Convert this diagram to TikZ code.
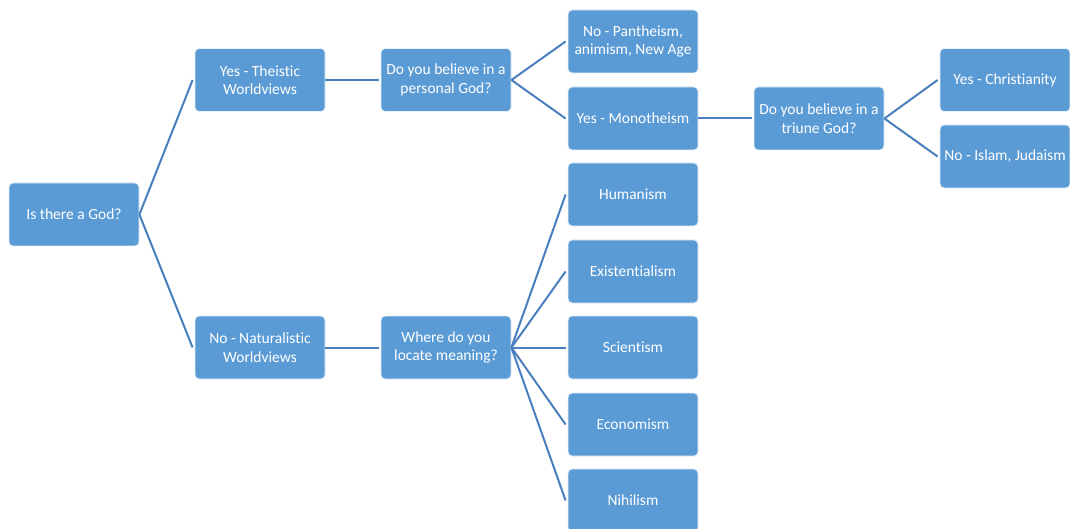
\documentclass[tikz,border=0pt]{standalone}
\usepackage{fontspec}
\setmainfont[Ligatures=NoCommon]{Carlito}
\definecolor{boxblue}{HTML}{5B9BD5}
\definecolor{lineblue}{HTML}{4A7FBF}
\begin{document}
\begin{tikzpicture}[x=1pt,y=-1pt,
  box/.style={rectangle, rounded corners=4pt, fill=boxblue, draw=white!85!boxblue, line width=0.8pt,
    minimum width=130pt, minimum height=63pt, inner sep=0pt, text=white, align=center,
    font=\fontsize{15.5}{18.5}\selectfont},
  conn/.style={draw=lineblue, line width=2pt}]
\clip (0,0) rectangle (1070,529);
\fill[white] (0,0) rectangle (1070,529);
\node[box] (root) at (74,214.5) {Is there a God?};
\node[box] (yes) at (260,80) {Yes - Theistic\\Worldviews};
\node[box] (no) at (260,347.5) {No - Naturalistic\\Worldviews};
\node[box] (personal) at (446,80) {Do you believe in a\\personal God?};
\node[box] (meaning) at (446,347.5) {Where do you\\locate meaning?};
\node[box] (panth) at (633,41.5) {No - Pantheism,\\animism, New Age};
\node[box] (mono) at (633,118.5) {Yes - Monotheism};
\node[box] (hum) at (633,194.5) {Humanism};
\node[box] (exi) at (633,271.5) {Existentialism};
\node[box] (sci) at (633,347.5) {Scientism};
\node[box] (eco) at (633,424.5) {Economism};
\node[box] (nih) at (633,500.5) {Nihilism};
\node[box] (triune) at (819,118.5) {Do you believe in a\\triune God?};
\node[box] (chr) at (1005,80) {Yes - Christianity};
\node[box] (isl) at (1005,156.5) {No - Islam, Judaism};
\foreach \a/\b in {root/yes, root/no, yes/personal, no/meaning, personal/panth, personal/mono,
  meaning/hum, meaning/exi, meaning/sci, meaning/eco, meaning/nih, mono/triune, triune/chr, triune/isl}
  \draw[conn] (\a.east) -- ([xshift=-2pt]\b.west);
\end{tikzpicture}
\end{document}
